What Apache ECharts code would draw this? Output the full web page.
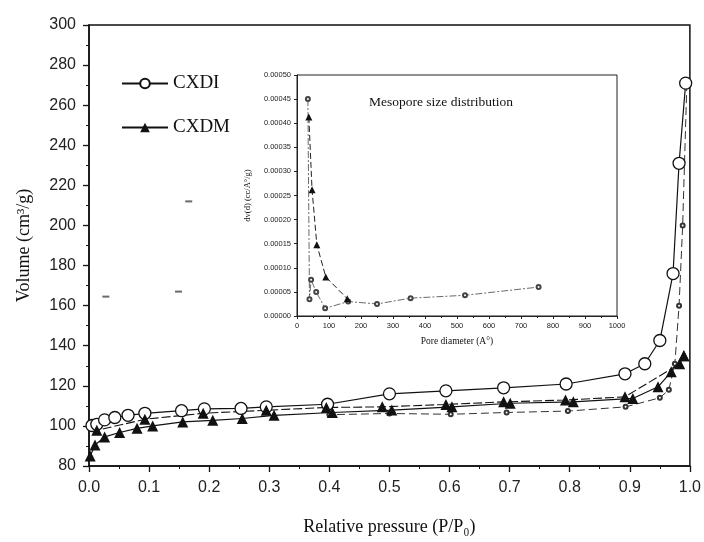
<!DOCTYPE html>
<html>
<head>
<meta charset="utf-8">
<script src="https://cdn.jsdelivr.net/npm/echarts@6/dist/echarts.min.js"></script>
<style>
  html, body { margin: 0; padding: 0; background: #fff; }
  #chart { width: 704px; height: 542px; }
</style>
</head>
<body>
<div id="chart"></div>
<script>
// ─── main isotherm data [P/P0, volume cm3/g] ───
const cxdiAds = [[0.005,100.2],[0.013,100.8],[0.026,103.0],[0.043,104.2],[0.065,105.3],[0.093,106.3],[0.154,107.6],[0.192,108.5],[0.253,108.7],[0.295,109.5],[0.397,110.8],[0.5,116.0],[0.594,117.5],[0.69,119.0],[0.794,120.9],[0.892,126.0],[0.925,131.0],[0.95,142.6],[0.972,176],[0.982,231],[0.993,271]];
const cxdiDes = [[0.995,271],[0.988,200],[0.982,160],[0.975,131],[0.965,118],[0.95,114],[0.893,109.5],[0.797,107.4],[0.695,106.7],[0.602,105.8],[0.5,106.2],[0.4,105.6]];
const cxdmAds = [[0.002,85],[0.01,90.5],[0.026,94.5],[0.051,96.7],[0.08,98.8],[0.106,100],[0.156,102],[0.206,102.8],[0.255,103.7],[0.308,105.3],[0.405,106.7],[0.504,107.9],[0.604,109.5],[0.701,111.3],[0.806,112],[0.905,113.7],[0.947,119.5],[0.969,127],[0.99,135]];
const cxdmDes = [[0.99,135],[0.983,131],[0.892,114.5],[0.793,112.9],[0.69,112],[0.594,110.7],[0.488,109.5],[0.395,109.2],[0.295,107.8],[0.19,106.3],[0.093,103.3],[0.013,97.8]];
// scan specks
const specks = [[0.028,164.5],[0.149,167],[0.166,212]];

// ─── inset: mesopore size distribution [pore diameter A, dV(d)] ───
const insetCxdm = [[37,0.000413],[47,0.000262],[62,0.000148],[90,0.000081],[157,0.000036]];
const insetCxdi = [[34,0.00045],[39,0.000035],[44,0.000075],[60,0.00005],[88,0.000016],[160,0.00003],[250,0.000025],[355,0.000037],[525,0.000043],[755,0.00006]];

const serif = "'Liberation Serif', 'DejaVu Serif', serif";
const sans = "'Liberation Sans', Arial, sans-serif";
const ink = "#111";

const chart = echarts.init(document.getElementById("chart"));

chart.setOption({
  backgroundColor: "#fff",
  animation: false,
  title: {
    text: "Mesopore size distribution",
    left: 364, top: 90,
    textStyle: { fontFamily: serif, fontSize: 13.5, fontWeight: "normal", color: ink }
  },
  legend: {
    data: ["CXDI", "CXDM"],
    orient: "vertical",
    left: 116, top: 69,
    itemGap: 25, itemWidth: 46, itemHeight: 12,
    textStyle: { fontFamily: serif, fontSize: 19, color: ink }
  },
  grid: [
    { left: 89, right: 12, top: 25, bottom: 76, show: true, borderColor: ink, borderWidth: 1.5 },
    { left: 297, right: 87, top: 75, bottom: 226, show: true, borderColor: "#222", borderWidth: 1, backgroundColor: "#fff", z: 5 }
  ],
  xAxis: [
    {
      gridIndex: 0, type: "value", min: 0, max: 1, interval: 0.1,
      name: "Relative pressure (P/P\u2080)", nameLocation: "middle", nameGap: 52,
      nameTextStyle: { fontFamily: serif, fontSize: 18, color: ink },
      axisLine: { lineStyle: { color: ink, width: 1.5 } },
      axisTick: { length: 6, lineStyle: { color: ink, width: 1.3 } },
      minorTick: { show: true, splitNumber: 2, length: 3, lineStyle: { color: ink } },
      axisLabel: { fontFamily: sans, fontSize: 16, color: "#222", margin: 14, formatter: v => v.toFixed(1) },
      splitLine: { show: false }
    },
    {
      gridIndex: 1, type: "value", min: 0, max: 1000, interval: 100,
      name: "Pore diameter (A\u00b0)", nameLocation: "middle", nameGap: 20,
      nameTextStyle: { fontFamily: serif, fontSize: 9.5, color: ink },
      axisLine: { lineStyle: { color: "#222", width: 1 } },
      axisTick: { length: 3, lineStyle: { color: "#222" } },
      minorTick: { show: true, splitNumber: 2, length: 2, lineStyle: { color: "#222" } },
      axisLabel: { fontFamily: sans, fontSize: 7.5, color: "#222", margin: 6, formatter: v => String(v) },
      splitLine: { show: false }, z: 6
    }
  ],
  yAxis: [
    {
      gridIndex: 0, type: "value", min: 80, max: 300, interval: 20,
      name: "Volume (cm\u00b3/g)", nameLocation: "middle", nameGap: 56,
      nameTextStyle: { fontFamily: serif, fontSize: 18, color: ink },
      axisLine: { lineStyle: { color: ink, width: 1.5 } },
      axisTick: { length: 6, lineStyle: { color: ink, width: 1.3 } },
      minorTick: { show: true, splitNumber: 2, length: 3, lineStyle: { color: ink } },
      axisLabel: { fontFamily: sans, fontSize: 16, color: "#222", margin: 13 },
      splitLine: { show: false }
    },
    {
      gridIndex: 1, type: "value", min: 0, max: 0.0005, interval: 0.00005,
      name: "dv(d) (cc/A\u00b0/g)", nameLocation: "middle", nameGap: 45,
      nameTextStyle: { fontFamily: serif, fontSize: 8.5, color: ink },
      axisLine: { lineStyle: { color: "#222", width: 1 } },
      axisTick: { length: 3, lineStyle: { color: "#222" } },
      axisLabel: { fontFamily: sans, fontSize: 7.5, color: "#222", margin: 6, formatter: v => v.toFixed(5) },
      splitLine: { show: false }, z: 6
    }
  ],
  series: [
    {
      name: "CXDI", type: "line", xAxisIndex: 0, yAxisIndex: 0, data: cxdiAds,
      symbol: "circle", symbolSize: 12,
      lineStyle: { color: ink, width: 1.2 },
      itemStyle: { color: "#fff", borderColor: ink, borderWidth: 1.3 }, z: 3
    },
    {
      name: "CXDI des", type: "line", xAxisIndex: 0, yAxisIndex: 0, data: cxdiDes,
      symbol: "emptyCircle", symbolSize: 4,
      lineStyle: { color: "#333", width: 1, type: [8, 4] },
      itemStyle: { color: "#333", borderColor: "#333", borderWidth: 0.8 }, z: 2
    },
    {
      name: "CXDM", type: "line", xAxisIndex: 0, yAxisIndex: 0, data: cxdmAds,
      symbol: "triangle", symbolSize: 11,
      lineStyle: { color: ink, width: 1.2 },
      itemStyle: { color: ink }, z: 3
    },
    {
      name: "CXDM des", type: "line", xAxisIndex: 0, yAxisIndex: 0, data: cxdmDes,
      symbol: "triangle", symbolSize: 11,
      lineStyle: { color: ink, width: 1.1, type: [9, 3] },
      itemStyle: { color: ink }, z: 3
    },
    {
      name: "specks", type: "scatter", xAxisIndex: 0, yAxisIndex: 0, data: specks,
      symbol: "rect", symbolSize: [7, 2], itemStyle: { color: "#444" }, silent: true
    },
    {
      name: "inset CXDM", type: "line", xAxisIndex: 1, yAxisIndex: 1, data: insetCxdm,
      symbol: "triangle", symbolSize: 7,
      lineStyle: { color: "#222", width: 1, type: [6, 3] },
      itemStyle: { color: ink }, z: 8
    },
    {
      name: "inset CXDI", type: "line", xAxisIndex: 1, yAxisIndex: 1, data: insetCxdi,
      symbol: "emptyCircle", symbolSize: 4,
      lineStyle: { color: "#444", width: 0.8, type: [7, 2, 2, 2] },
      itemStyle: { color: "#444", borderColor: "#444", borderWidth: 0.7 }, z: 7
    }
  ]
});
</script>
</body>
</html>
